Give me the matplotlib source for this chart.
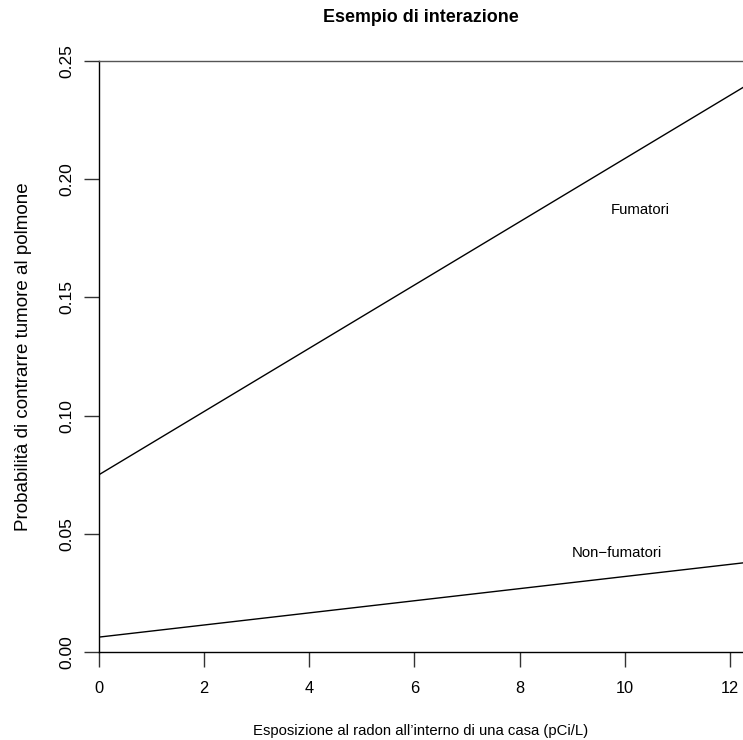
import matplotlib
matplotlib.use('Agg')
import numpy as np
import matplotlib.pyplot as plt

# exposure range and the two fitted lines (endpoints)
radon = [0.0, 12.25]
fumatori = [0.075, 0.2388]
non_fumatori = [0.0063, 0.0377]

x_ticks = [0, 2, 4, 6, 8, 10, 12]
y_ticks = [0.00, 0.05, 0.10, 0.15, 0.20, 0.25]
y_tick_labels = ['0.00', '0.05', '0.10', '0.15', '0.20', '0.25']

plt.rcParams['font.family'] = ['Liberation Sans', 'DejaVu Sans']
fs = 10.7

fig = plt.figure(figsize=(7.43, 7.40), dpi=100)
ax = fig.add_axes([99 / 743, 88 / 740, 1 - 99 / 743, (652 - 61) / 740])

ax.plot(radon, fumatori, color='black', lw=1)
ax.plot(radon, non_fumatori, color='black', lw=1)

ax.text(10.29, 0.187, 'Fumatori', ha='center', va='center', fontsize=fs)
ax.text(9.85, 0.0419, 'Non\u2212fumatori', ha='center', va='center', fontsize=fs)

ax.set_xlim(radon)
ax.set_ylim(0, 0.25)
ax.set_xticks(x_ticks)
ax.set_yticks(y_ticks)
ax.set_yticklabels(y_tick_labels, rotation=90, va='center', fontsize=12.5)
ax.tick_params(axis='both', length=11, width=1, color='#333333')
ax.tick_params(axis='x', pad=10, labelsize=11.8)
ax.tick_params(axis='y', pad=6.5)

ax.spines['right'].set_visible(False)
for side in ['left', 'bottom', 'top']:
    ax.spines[side].set_linewidth(1)
ax.spines['top'].set_color('#555555')

ax.set_title('Esempio di interazione', fontsize=12.9, fontweight='bold', pad=28)
ax.set_xlabel('Esposizione al radon all\u2019interno di una casa (pCi/L)', fontsize=fs, labelpad=20)
ax.set_ylabel('Probabilit\u00e0 di contrarre tumore al polmone', fontsize=13.5, labelpad=20)

fig.savefig('out.png', dpi=100)
